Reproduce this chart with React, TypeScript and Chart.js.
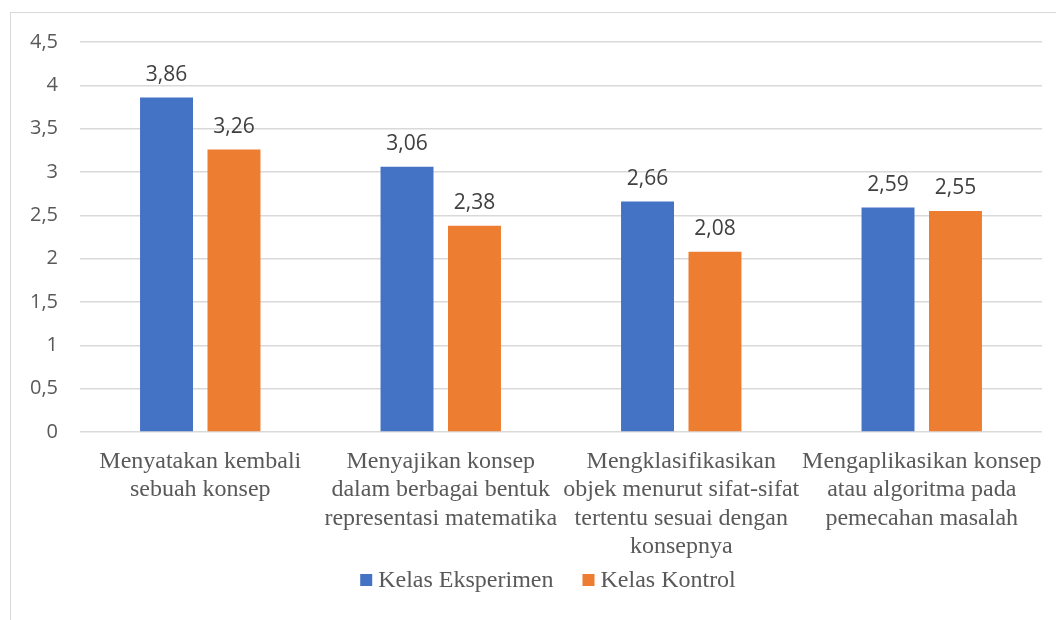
import React, { useEffect, useRef } from "react";
import { Chart, registerables } from "chart.js";

Chart.register(...registerables);

const categories: string[][] = [
  ["Menyatakan kembali", "sebuah konsep"],
  ["Menyajikan konsep", "dalam berbagai bentuk", "representasi matematika"],
  ["Mengklasifikasikan", "objek menurut sifat-sifat", "tertentu sesuai dengan", "konsepnya"],
  ["Mengaplikasikan konsep", "atau algoritma pada", "pemecahan masalah"],
];
const seriesNames = ["Kelas Eksperimen", "Kelas Kontrol"];
const eksperimen = [3.86, 3.06, 2.66, 2.59];
const kontrol = [3.26, 2.38, 2.08, 2.55];
const yTicks = [0, 0.5, 1, 1.5, 2, 2.5, 3, 3.5, 4, 4.5];

const fmt = (v: number) => String(v).replace(".", ",");
const SERIF = "'Liberation Serif', 'Times New Roman', serif";

const dataLabelPlugin = {
  id: "dataLabels",
  afterDatasetsDraw(chart: any) {
    const ctx = chart.ctx;
    ctx.save();
    ctx.font = "21px 'Open Sans'";
    ctx.fillStyle = "#404040";
    ctx.textAlign = "center";
    ctx.textBaseline = "bottom";
    chart.data.datasets.forEach((ds: any, i: number) => {
      const meta = chart.getDatasetMeta(i);
      meta.data.forEach((el: any, j: number) => {
        ctx.fillText(fmt(ds.data[j]), el.x, el.y - 12);
      });
    });
    ctx.restore();
  },
};

const legendPlugin = {
  id: "customLegend",
  afterDraw(chart: any) {
    const ctx = chart.ctx;
    const box = 12;
    const textGap = 6;
    const itemGap = 29;
    ctx.save();
    ctx.font = `24px ${SERIF}`;
    const items = chart.data.datasets.map((ds: any) => ({
      label: ds.label,
      color: ds.backgroundColor,
      w: box + textGap + ctx.measureText(ds.label).width,
    }));
    const total = items.reduce((s: number, it: any) => s + it.w, 0) + itemGap * (items.length - 1);
    const cx = (chart.chartArea.left + chart.chartArea.right) / 2 - 13;
    const cy = chart.chartArea.bottom + 148;
    let x = cx - total / 2;
    ctx.textBaseline = "middle";
    ctx.textAlign = "left";
    items.forEach((it: any) => {
      ctx.fillStyle = it.color;
      ctx.fillRect(x, cy - box / 2, box, box);
      ctx.fillStyle = "#595959";
      ctx.fillText(it.label, x + box + textGap, cy + 1);
      x += it.w + itemGap;
    });
    ctx.restore();
  },
};

export default function App() {
  const ref = useRef<HTMLCanvasElement>(null);
  useEffect(() => {
    if (!ref.current) return;
    const chart = new Chart(ref.current, {
      type: "bar",
      data: {
        labels: categories as any,
        datasets: [
          { label: seriesNames[0], data: eksperimen, backgroundColor: "#4472C4", categoryPercentage: 0.561, barPercentage: 0.785 },
          { label: seriesNames[1], data: kontrol, backgroundColor: "#ED7D31", categoryPercentage: 0.561, barPercentage: 0.785 },
        ],
      },
      options: {
        animation: false,
        responsive: false,
        layout: { padding: { left: 0, right: 14, top: 42, bottom: 50 } },
        scales: {
          x: {
            grid: { display: false },
            border: { display: false },
            ticks: {
              autoSkip: false,
              maxRotation: 0,
              minRotation: 0,
              padding: 7,
              color: "#595959",
              font: { family: SERIF, size: 24, lineHeight: 1.19 },
            },
            afterFit(scale: any) {
              scale.height = 138;
            },
          } as any,
          y: {
            min: 0,
            max: 4.5,
            afterBuildTicks(scale: any) {
              scale.ticks = yTicks.map((v) => ({ value: v }));
            },
            grid: { color: "#d9d9d9", lineWidth: 1.5, drawTicks: false },
            border: { display: false },
            ticks: {
              padding: 22,
              color: "#595959",
              font: { family: "'Open Sans'", size: 20 },
              callback: (v: any) => fmt(Number(v)),
            },
            afterFit(scale: any) {
              scale.width = 80;
            },
          } as any,
        },
        plugins: {
          legend: { display: false },
          tooltip: { enabled: false },
        },
      },
      plugins: [dataLabelPlugin, legendPlugin],
    });
    return () => chart.destroy();
  }, []);
  return (
    <div style={{ position: "fixed", left: 0, top: 0, width: 1056, height: 620, overflow: "hidden", background: "#fff" }}>
      <div style={{ position: "absolute", left: 10, top: 12, width: 1200, height: 800, border: "1px solid #d9d9d9" }} />
      <canvas ref={ref} width={1056} height={620} style={{ position: "absolute", left: 0, top: 0 }} />
    </div>
  );
}
